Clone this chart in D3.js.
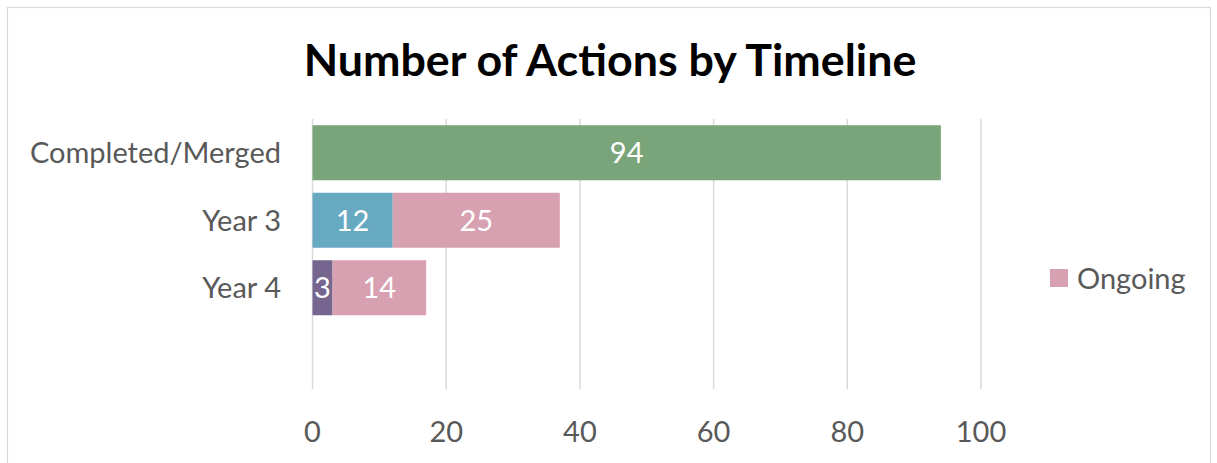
<!DOCTYPE html>
<html><head><meta charset="utf-8">
<script src="https://cdn.jsdelivr.net/npm/d3@7"></script>
<style>body{margin:0;background:#fff}svg{display:block}text{font-family:Lato,"Open Sans",sans-serif}</style>
</head><body>
<svg id="c" width="1217" height="463"></svg>
<script>
const title = "Number of Actions by Timeline";
const categories = ["Completed/Merged", "Year 3", "Year 4", ""];
const seriesNames = ["Completed/Merged", "Year 3", "Year 4", "Ongoing"];
const completedValues = [94, 0, 0, 0];
const year3Values = [0, 12, 0, 0];
const year4Values = [0, 0, 3, 0];
const ongoingValues = [0, 25, 14, 0];
const xTicks = [0, 20, 40, 60, 80, 100];
const legendItems = ["Ongoing"];
const colors = {"Completed/Merged":"#7aa57a","Year 3":"#68a9c2","Year 4":"#76668f","Ongoing":"#d8a1b1"};

const svg = d3.select("#c");
svg.append("rect").attr("x",7.5).attr("y",7.5).attr("width",1203).attr("height",460)
  .attr("fill","#fff").attr("stroke","#d9d9d9").attr("stroke-width",1.2);

const x = d3.scaleLinear().domain([0,100]).range([312.5,981]);
const y = d3.scaleBand().domain(categories.map((c,i)=>i)).range([119,389]).paddingInner(0.185).paddingOuter(0.0925);

function fit(sel, target){ const w = sel.node().getComputedTextLength(); const fs = parseFloat(sel.attr("font-size")); sel.attr("font-size", fs*target/w); }

const FS = 29;

// gridlines
svg.append("g").selectAll("line").data(xTicks).join("line")
  .attr("x1",d=>x(d)).attr("x2",d=>x(d)).attr("y1",119).attr("y2",389)
  .attr("stroke","#d9d9d9").attr("stroke-width",1.5);

// stacked data
const rows = categories.map((c,i)=>({i, "Completed/Merged":completedValues[i], "Year 3":year3Values[i], "Year 4":year4Values[i], "Ongoing":ongoingValues[i]}));
const stack = d3.stack().keys(seriesNames)(rows);
const g = svg.append("g");
stack.forEach(s=>{
  s.forEach(d=>{
    const v = d[1]-d[0];
    if(v<=0) return;
    g.append("rect").attr("x",x(d[0])).attr("width",x(d[1])-x(d[0]))
      .attr("y",y(d.data.i)).attr("height",y.bandwidth()).attr("fill",colors[s.key]);
    g.append("text").attr("x",(x(d[0])+x(d[1]))/2).attr("y",y(d.data.i)+y.bandwidth()/2+10.5)
      .attr("text-anchor","middle").attr("font-size",FS).attr("fill","#fff").text(v);
  });
});

// category labels
categories.forEach((c,i)=>{
  if(!c) return;
  svg.append("text").attr("x",281).attr("y",y(i)+y.bandwidth()/2+10.5).attr("text-anchor","end")
    .attr("font-size",FS).attr("fill","#595959").text(c);
});

// x tick labels
svg.append("g").selectAll("text").data(xTicks).join("text")
  .attr("x",d=>x(d)).attr("y",442).attr("text-anchor","middle")
  .attr("font-size",FS).attr("fill","#595959").text(d=>d);

// title
const t = svg.append("text").attr("x",610).attr("y",76).attr("text-anchor","middle")
  .attr("font-size",40).attr("font-weight","bold").attr("fill","#000").text(title);
fit(t, 613);

// legend
legendItems.forEach((k,i)=>{
  svg.append("rect").attr("x",1050).attr("y",269).attr("width",18).attr("height",18).attr("fill",colors[k]);
  svg.append("text").attr("x",1077).attr("y",289).attr("font-size",FS).attr("fill","#595959").text(k);
});
</script>
</body></html>
